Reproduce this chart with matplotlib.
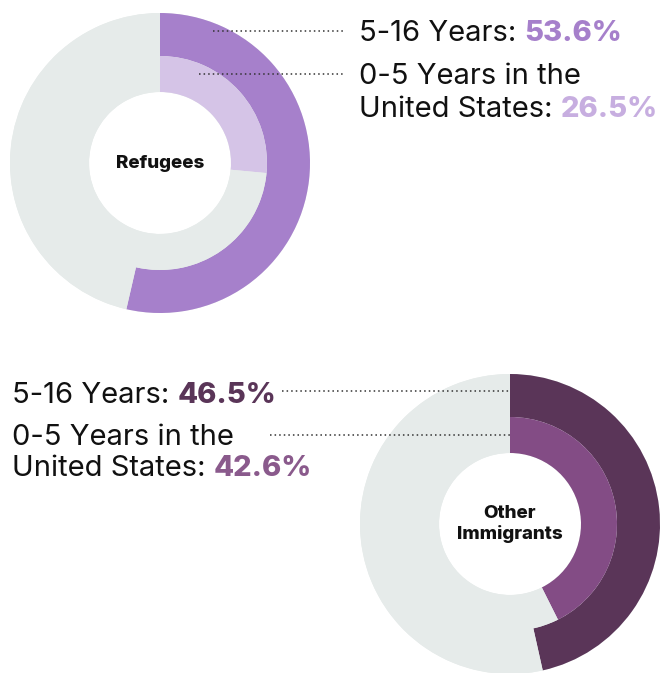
import matplotlib
matplotlib.use("Agg")
import matplotlib.pyplot as plt

# ---- data ----
groups = ["Refugees", "Other\nImmigrants"]
outer_vals = [53.6, 46.5]   # 5-16 Years
inner_vals = [26.5, 42.6]   # 0-5 Years in the United States
outer_colors = ["#A680CB", "#5A3558"]
inner_colors = ["#D5C4E7", "#834C85"]
outer_text_colors = ["#A680CB", "#5A3558"]
inner_text_colors = ["#C7AEE0", "#8A5A8C"]
label_outer = "5-16 Years: "
label_inner_1 = "0-5 Years in the"
label_inner_2 = "United States: "
GREY = "#E6EBEA"

W, H = 672, 673
fig = plt.figure(figsize=(W / 100, H / 100), dpi=100)
ax = fig.add_axes([0, 0, 1, 1])

FONT = ["Inter", "DejaVu Sans"]

centers = [(160, H - 163), (510, H - 524)]
R_out, R_mid, R_in = 150, 107, 71

for i in range(2):
    c = centers[i]
    ov, iv = outer_vals[i], inner_vals[i]
    # grey background ring (avoids seams)
    ax.pie([100], radius=R_out, center=c, colors=[GREY],
           wedgeprops=dict(width=R_out - R_in, linewidth=0))
    ax.pie([ov, 100 - ov], radius=R_out, center=c, startangle=90, counterclock=False,
           colors=[outer_colors[i], GREY], wedgeprops=dict(width=R_out - R_mid, linewidth=0))
    ax.pie([iv, 100 - iv], radius=R_mid, center=c, startangle=90, counterclock=False,
           colors=[inner_colors[i], GREY], wedgeprops=dict(width=R_mid - R_in, linewidth=0))
    ax.text(c[0], c[1], groups[i], ha="center", va="center", fontsize=13.5,
            fontweight="heavy", family=FONT, color="#111111", linespacing=1.15)

ax.set_xlim(0, W)
ax.set_ylim(0, H)
ax.set_aspect("equal")
ax.axis("off")

fig.canvas.draw()
renderer = fig.canvas.get_renderer()
FS = 21


def two_part(x, y, t1, t2, col):
    a = ax.text(x, y, t1, fontsize=FS, family=FONT, color="#111111", va="baseline", ha="left")
    bb = a.get_window_extent(renderer)
    inv = ax.transData.inverted()
    x2 = inv.transform((bb.x1, bb.y0))[0]
    ax.text(x2, y, t2, fontsize=FS, family=FONT, color=col, fontweight="heavy",
            va="baseline", ha="left")


dot_kw = dict(color="#333333", linestyle=(0, (1, 2.0)), linewidth=1.1)

# Refugees labels (right side)
two_part(359, H - 41, label_outer, f"{outer_vals[0]}%", outer_text_colors[0])
ax.text(359, H - 84, label_inner_1, fontsize=FS, family=FONT, color="#111111", va="baseline")
two_part(359, H - 117, label_inner_2, f"{inner_vals[0]}%", inner_text_colors[0])
ax.plot([213, 345], [H - 31, H - 31], **dot_kw)
ax.plot([199, 345], [H - 74, H - 74], **dot_kw)

# Other immigrants labels (left side)
two_part(12, H - 403, label_outer, f"{outer_vals[1]}%", outer_text_colors[1])
ax.text(12, H - 445, label_inner_1, fontsize=FS, family=FONT, color="#111111", va="baseline")
two_part(12, H - 476, label_inner_2, f"{inner_vals[1]}%", inner_text_colors[1])
ax.plot([282, 510], [H - 391, H - 391], **dot_kw)
ax.plot([270, 510], [H - 435, H - 435], **dot_kw)

fig.savefig("out.png", dpi=100, facecolor="white")
